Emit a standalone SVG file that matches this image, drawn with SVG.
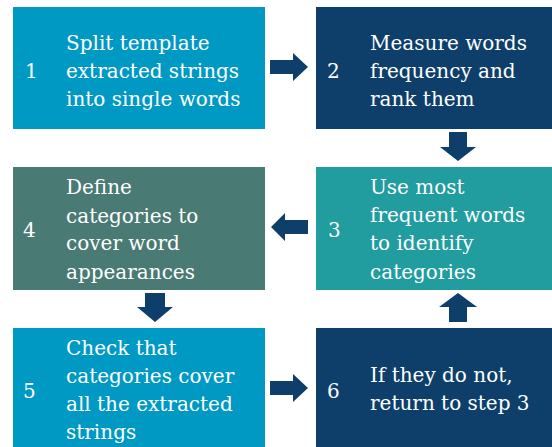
<svg xmlns="http://www.w3.org/2000/svg" width="552" height="447" viewBox="0 0 552 447">
<style>
.t{font-family:"DejaVu Serif",serif;font-size:20px;fill:#ffffff}
.a{fill:#0e3f6b}
</style>
<rect width="552" height="447" fill="#ffffff"/>
<g id="connectors">
<path class="a" d="M270,60 H293 V53 L308,67 L293,81 V74 H270 Z"/>
<path class="a" d="M449,132 H467 V147 H476 L458,161 L440,147 H449 Z"/>
<path class="a" d="M308,220 H285 V213 L271,227 L285,241 V234 H308 Z"/>
<path class="a" d="M145,293 H165 V307 H173 L155,322 L137,307 H145 Z"/>
<path class="a" d="M449,322 H467 V307 H477 L458,293 L439,307 H449 Z"/>
<path class="a" d="M270,381 H293 V374 L308,388 L293,402 V395 H270 Z"/>
</g>
<g id="n1">
<rect x="13" y="7" width="252" height="122" fill="#0099c3"/>
<text class="t" x="25" y="78">1</text>
<text class="t" x="66" y="50">Split template</text>
<text class="t" x="66" y="78">extracted strings</text>
<text class="t" x="66" y="106">into single words</text>
</g>
<g id="n2">
<rect x="316" y="7" width="236" height="122" fill="#0e3f6b"/>
<text class="t" x="327" y="78">2</text>
<text class="t" x="370" y="50">Measure words</text>
<text class="t" x="370" y="78">frequency and</text>
<text class="t" x="370" y="106">rank them</text>
</g>
<g id="n3">
<rect x="316" y="167" width="236" height="123" fill="#219c9f"/>
<text class="t" x="328" y="237">3</text>
<text class="t" x="370" y="194">Use most</text>
<text class="t" x="370" y="222">frequent words</text>
<text class="t" x="370" y="250">to identify</text>
<text class="t" x="370" y="279">categories</text>
</g>
<g id="n4">
<rect x="13" y="167" width="252" height="123" fill="#4a7a74"/>
<text class="t" x="23" y="237">4</text>
<text class="t" x="66" y="194">Define</text>
<text class="t" x="66" y="223">categories to</text>
<text class="t" x="66" y="250">cover word</text>
<text class="t" x="66" y="279">appearances</text>
</g>
<g id="n5">
<rect x="13" y="328" width="252" height="119" fill="#0099c3"/>
<text class="t" x="23" y="398">5</text>
<text class="t" x="66" y="355">Check that</text>
<text class="t" x="66" y="383">categories cover</text>
<text class="t" x="66" y="411">all the extracted</text>
<text class="t" x="66" y="439">strings</text>
</g>
<g id="n6">
<rect x="316" y="328" width="236" height="119" fill="#0e3f6b"/>
<text class="t" x="327" y="398">6</text>
<text class="t" x="370" y="382">If they do not,</text>
<text class="t" x="370" y="410">return to step 3</text>
</g>
</svg>
